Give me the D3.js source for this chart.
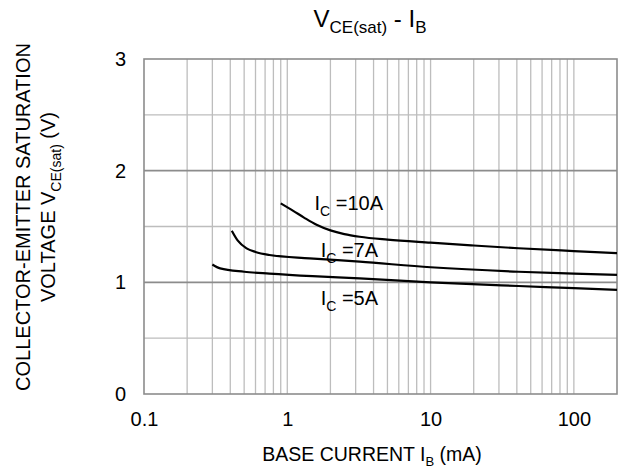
<!DOCTYPE html>
<html>
<head>
<meta charset="utf-8">
<script src="https://cdn.jsdelivr.net/npm/d3@7"></script>
<style>
  body { margin: 0; background: #fff; }
  svg text { font-family: "Liberation Sans", Arial, sans-serif; fill: #000; }
</style>
</head>
<body>
<div id="chart"></div>
<script>
// values: [I_B (mA), V_CE(sat) (V)]
const ic5 = [
  [0.3, 1.16], [0.34, 1.125], [0.5, 1.095], [0.75, 1.078], [1.5, 1.055], [3.2, 1.036],
  [10, 1.0], [41, 0.967], [100, 0.948], [200, 0.932]
];
const ic7 = [
  [0.41, 1.462], [0.45, 1.375], [0.52, 1.304], [0.6, 1.272], [0.75, 1.245], [1.43, 1.215],
  [3.2, 1.185], [10, 1.135], [41, 1.095], [100, 1.078], [200, 1.066]
];
const ic10 = [
  [0.9, 1.707], [1.1, 1.64], [1.3, 1.582], [1.6, 1.515], [2, 1.465], [2.5, 1.432],
  [3.2, 1.408], [5, 1.382], [10, 1.355], [20, 1.33], [41, 1.305], [100, 1.28], [200, 1.262]
];
const seriesLabels = ['5A', '7A', '10A'];

const xTickVals = [0.1, 1, 10, 100];
const yTickVals = [0, 1, 2, 3];

const width = 622, height = 470;
const margin = { top: 59, right: 5, bottom: 76, left: 144 };
const innerW = width - margin.left - margin.right;
const innerH = height - margin.top - margin.bottom;

const svg = d3.select('#chart').append('svg')
  .attr('width', width).attr('height', height);
const g = svg.append('g').attr('transform', `translate(${margin.left},${margin.top})`);

const x = d3.scaleLog().domain([0.1, 200]).range([0, innerW]);
const y = d3.scaleLinear().domain([0, 3]).range([innerH, 0]);

// vertical log grid
const vGrid = [];
for (let dec = 0.1; dec < 200; dec *= 10) {
  for (let k = 1; k <= 9; k++) {
    const v = +(dec * k).toPrecision(3);
    if (v > 0.1 && v < 200) vGrid.push(v);
  }
}
g.append('g').selectAll('line').data(vGrid).join('line')
  .attr('x1', d => x(d)).attr('x2', d => x(d))
  .attr('y1', 0).attr('y2', innerH)
  .attr('stroke', '#bdbdbd').attr('stroke-width', 1.3);

const hGrid = [0.5, 1, 1.5, 2, 2.5];
g.append('g').selectAll('line').data(hGrid).join('line')
  .attr('x1', 0).attr('x2', innerW)
  .attr('y1', d => y(d)).attr('y2', d => y(d))
  .attr('stroke', d => Number.isInteger(d) ? '#8c8c8c' : '#bdbdbd')
  .attr('stroke-width', d => Number.isInteger(d) ? 1.6 : 1.3);

g.append('rect').attr('width', innerW).attr('height', innerH)
  .attr('fill', 'none').attr('stroke', '#8c8c8c').attr('stroke-width', 1.6);

// axes (labels only)
const xAxis = g.append('g').attr('transform', `translate(0,${innerH})`)
  .call(d3.axisBottom(x).tickValues(xTickVals).tickSize(0).tickPadding(18)
    .tickFormat(d => String(d)));
const yAxis = g.append('g')
  .call(d3.axisLeft(y).tickValues(yTickVals).tickSize(0).tickPadding(18).tickFormat(d3.format('d')));
[xAxis, yAxis].forEach(a => {
  a.select('.domain').remove();
  a.selectAll('text').attr('font-size', 20).attr('font-family', '"Liberation Sans", Arial, sans-serif');
});

// curves
const line = d3.line().x(d => x(d[0])).y(d => y(d[1])).curve(d3.curveMonotoneX);
[ic5, ic7, ic10].forEach(s => {
  g.append('path').datum(s).attr('d', line)
    .attr('fill', 'none').attr('stroke', '#000').attr('stroke-width', 2.2);
});

// curve labels
function icLabel(xv, yv, txt) {
  const t = g.append('text').attr('x', x(xv)).attr('y', y(yv)).attr('font-size', 20);
  t.append('tspan').text('I');
  t.append('tspan').attr('font-size', 14).attr('dy', 6).text('C');
  t.append('tspan').attr('dy', -6).text(' =' + txt);
}
icLabel(1.55, 1.647, seriesLabels[2]);
icLabel(1.71, 1.227, seriesLabels[1]);
icLabel(1.71, 0.797, seriesLabels[0]);

// title
const title = svg.append('text').attr('x', 370).attr('y', 27)
  .attr('text-anchor', 'middle').attr('font-size', 24);
title.append('tspan').text('V');
title.append('tspan').attr('font-size', 17).attr('dy', 6).text('CE(sat)');
title.append('tspan').attr('dy', -6).text(' - I');
title.append('tspan').attr('font-size', 17).attr('dy', 6).text('B');

// x label
const xl = svg.append('text').attr('x', 372).attr('y', 461)
  .attr('text-anchor', 'middle').attr('font-size', 19.5);
xl.append('tspan').text('BASE CURRENT I');
xl.append('tspan').attr('font-size', 13).attr('dy', 5).text('B');
xl.append('tspan').attr('dy', -5).text(' (mA)');

// y label
svg.append('text')
  .attr('transform', 'translate(30,217) rotate(-90)')
  .attr('text-anchor', 'middle').attr('font-size', 20)
  .text('COLLECTOR-EMITTER SATURATION');
const yl2 = svg.append('text')
  .attr('transform', 'translate(55,207) rotate(-90)')
  .attr('text-anchor', 'middle').attr('font-size', 20);
yl2.append('tspan').text('VOLTAGE V');
yl2.append('tspan').attr('font-size', 14).attr('dy', 6).text('CE(sat)');
yl2.append('tspan').attr('dy', -6).text(' (V)');
</script>
</body>
</html>
